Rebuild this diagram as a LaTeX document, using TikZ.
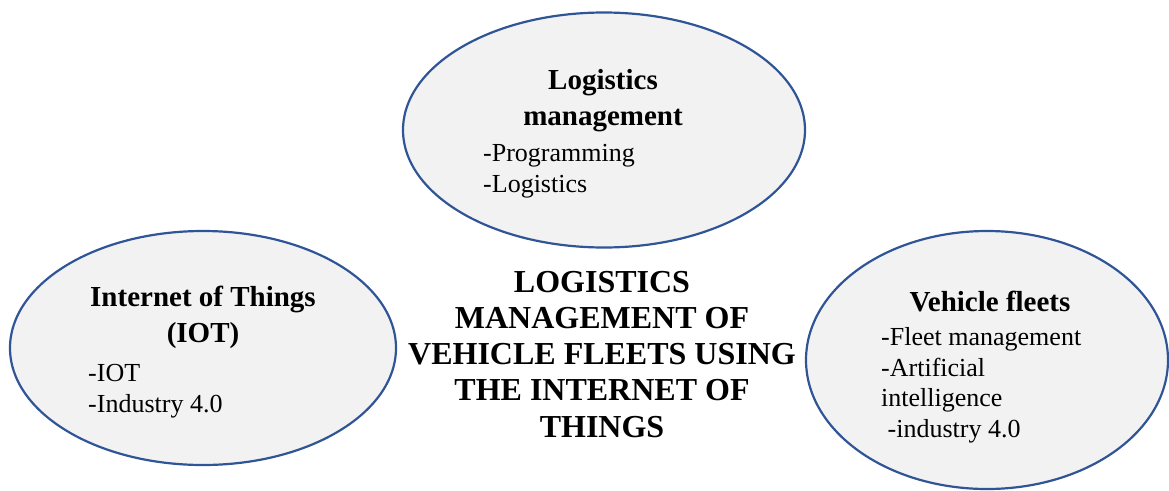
\documentclass[tikz,border=0pt]{standalone}
\usepackage{fontspec}
\setmainfont{Liberation Serif}
\usetikzlibrary{shapes.geometric}
\definecolor{rimblue}{HTML}{2F5597}
\definecolor{bubblegray}{HTML}{F2F2F2}
\tikzset{bubble/.style={draw=rimblue,fill=bubblegray,ellipse,line width=2.2pt,inner sep=0pt},
  head/.style={font=\fontsize{29}{36}\selectfont\bfseries,align=center,anchor=base,inner sep=0pt},
  item/.style={font=\fontsize{26}{30.5}\selectfont,align=left,anchor=base west,inner sep=0pt},
  title/.style={font=\fontsize{32}{36.2}\selectfont\bfseries,align=center,anchor=base,inner sep=0pt}}
\begin{document}
\begin{tikzpicture}[x=1pt,y=-1pt]
\useasboundingbox (0,0) rectangle (1169,490);
% the three areas
\node[bubble,minimum width=402pt,minimum height=235pt] (logi) at (604,130) {};
\node[bubble,minimum width=386pt,minimum height=234pt] (iot) at (203,348) {};
\node[bubble,minimum width=362pt,minimum height=258pt] (fleet) at (987,360) {};

% texts, placed by the baseline of their last line
\node[head] (logihead) at (603,125) {Logistics\\management};
\node[item] (logiitems) at (483,192) {-Programming\\-Logistics};

\node[head] (iothead) at (203,342) {Internet of Things\\(IOT)};
\node[item] (iotitems) at (88,412) {-IOT\\-Industry 4.0};

\node[head] (fleethead) at (990,311) {Vehicle fleets};
\node[item] (fleetitems) at (881,437) {-Fleet management\\-Artificial\\intelligence\\\hspace*{.25em}-industry 4.0};

% main topic
\node[title] (topic) at (602,437) {LOGISTICS\\MANAGEMENT OF\\VEHICLE FLEETS USING\\THE INTERNET OF\\THINGS};
\end{tikzpicture}
\end{document}
